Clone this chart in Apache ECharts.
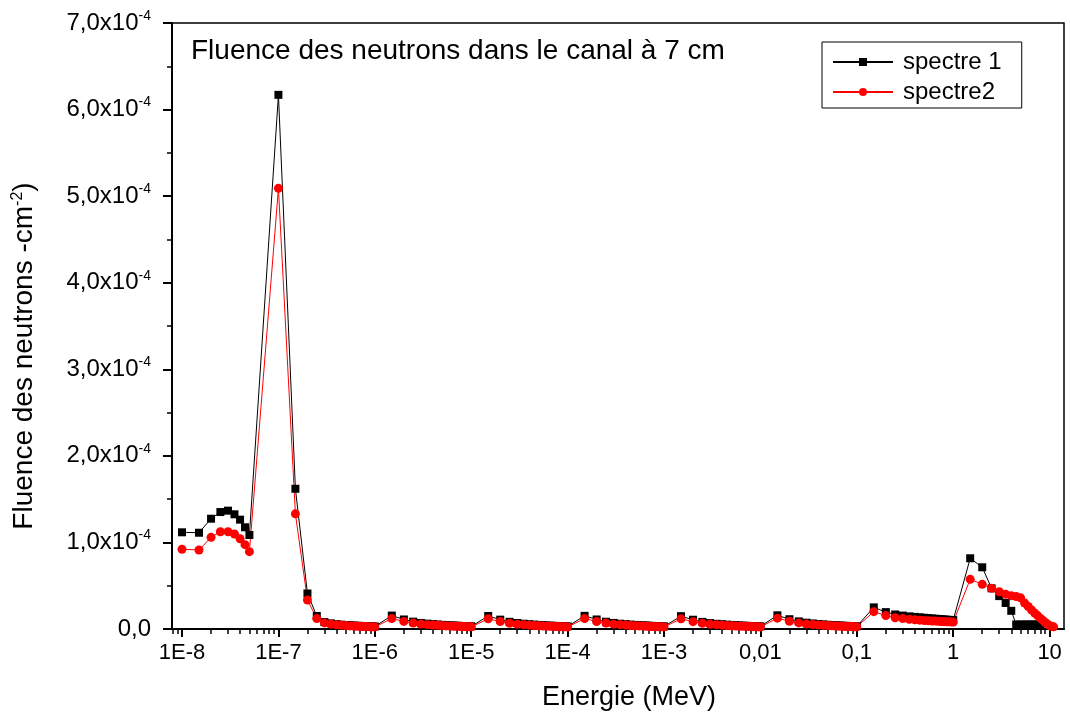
<!DOCTYPE html>
<html>
<head>
<meta charset="utf-8">
<script src="https://cdn.jsdelivr.net/npm/echarts@6/dist/echarts.min.js"></script>
<style>
    html, body { margin: 0; padding: 0; background: #fff; }
    #chart { width: 1070px; height: 720px; }
</style>
</head>
<body>
<div id="chart"></div>
<script>

// energy grid in MeV (spectre 1 stops at 8 MeV)
const energy = [
    1e-8, 1.5e-8, 2e-8, 2.5e-8, 3e-8, 3.5e-8, 4e-8, 4.5e-8, 5e-8,
    1e-7, 1.5e-7, 2e-7, 2.5e-7, 3e-7, 3.5e-7, 4e-7, 4.5e-7, 5e-7, 5.5e-7, 6e-7, 6.5e-7, 7e-7, 7.5e-7, 8e-7, 8.5e-7, 9e-7, 9.5e-7, 1e-6,
    1.5e-6, 2e-6, 2.5e-6, 3e-6, 3.5e-6, 4e-6, 4.5e-6, 5e-6, 5.5e-6, 6e-6, 6.5e-6, 7e-6, 7.5e-6, 8e-6, 8.5e-6, 9e-6, 9.5e-6, 1e-5,
    1.5e-5, 2e-5, 2.5e-5, 3e-5, 3.5e-5, 4e-5, 4.5e-5, 5e-5, 5.5e-5, 6e-5, 6.5e-5, 7e-5, 7.5e-5, 8e-5, 8.5e-5, 9e-5, 9.5e-5, 1e-4,
    1.5e-4, 2e-4, 2.5e-4, 3e-4, 3.5e-4, 4e-4, 4.5e-4, 5e-4, 5.5e-4, 6e-4, 6.5e-4, 7e-4, 7.5e-4, 8e-4, 8.5e-4, 9e-4, 9.5e-4, 1e-3,
    1.5e-3, 2e-3, 2.5e-3, 3e-3, 3.5e-3, 4e-3, 4.5e-3, 5e-3, 5.5e-3, 6e-3, 6.5e-3, 7e-3, 7.5e-3, 8e-3, 8.5e-3, 9e-3, 9.5e-3, 1e-2,
    1.5e-2, 2e-2, 2.5e-2, 3e-2, 3.5e-2, 4e-2, 4.5e-2, 5e-2, 5.5e-2, 6e-2, 6.5e-2, 7e-2, 7.5e-2, 8e-2, 8.5e-2, 9e-2, 9.5e-2, 0.1,
    0.15, 0.2, 0.25, 0.3, 0.35, 0.4, 0.45, 0.5, 0.55, 0.6, 0.65, 0.7, 0.75, 0.8, 0.85, 0.9, 0.95, 1,
    1.5, 2, 2.5, 3, 3.5, 4, 4.5, 5, 5.5, 6, 6.5, 7, 7.5, 8, 8.5, 9, 9.5, 10, 10.5, 11
];

// fluence, in units of 1e-4 cm-2
const spectre1 = [
    1.117, 1.112, 1.274, 1.351, 1.367, 1.325, 1.263, 1.175, 1.086,
    6.17, 1.62, 0.41, 0.15, 0.08, 0.065, 0.056, 0.05, 0.046, 0.043, 0.04, 0.038, 0.036, 0.034, 0.033, 0.032, 0.031, 0.03, 0.029,
    0.155, 0.11, 0.085, 0.07, 0.062, 0.056, 0.052, 0.048, 0.045, 0.042, 0.04, 0.038, 0.037, 0.035, 0.034, 0.033, 0.032, 0.031,
    0.15, 0.108, 0.083, 0.069, 0.061, 0.055, 0.051, 0.047, 0.044, 0.041, 0.039, 0.037, 0.036, 0.034, 0.033, 0.032, 0.031, 0.03,
    0.152, 0.11, 0.084, 0.07, 0.061, 0.056, 0.051, 0.047, 0.044, 0.042, 0.04, 0.038, 0.036, 0.035, 0.033, 0.032, 0.031, 0.03,
    0.148, 0.107, 0.082, 0.068, 0.06, 0.055, 0.05, 0.047, 0.044, 0.041, 0.039, 0.037, 0.036, 0.034, 0.033, 0.032, 0.031, 0.03,
    0.158, 0.113, 0.088, 0.073, 0.064, 0.058, 0.053, 0.049, 0.046, 0.043, 0.041, 0.039, 0.037, 0.036, 0.034, 0.033, 0.032, 0.031,
    0.25, 0.195, 0.168, 0.155, 0.146, 0.14, 0.135, 0.13, 0.126, 0.122, 0.119, 0.116, 0.113, 0.11, 0.108, 0.106, 0.104, 0.102,
    0.817, 0.713, 0.47, 0.38, 0.3, 0.21, 0.052, 0.052, 0.052, 0.052, 0.052, 0.052, 0.052, 0.052
];

const spectre2 = [
    0.921, 0.913, 1.059, 1.124, 1.124, 1.097, 1.043, 0.974, 0.893,
    5.09, 1.33, 0.335, 0.12, 0.07, 0.056, 0.048, 0.043, 0.039, 0.036, 0.034, 0.032, 0.03, 0.029, 0.028, 0.027, 0.026, 0.025, 0.024,
    0.12, 0.088, 0.068, 0.057, 0.05, 0.045, 0.042, 0.039, 0.036, 0.034, 0.032, 0.031, 0.03, 0.029, 0.028, 0.027, 0.026, 0.025,
    0.118, 0.086, 0.067, 0.056, 0.049, 0.044, 0.041, 0.038, 0.035, 0.033, 0.031, 0.03, 0.029, 0.028, 0.027, 0.026, 0.025, 0.024,
    0.12, 0.087, 0.068, 0.056, 0.05, 0.045, 0.041, 0.038, 0.036, 0.034, 0.032, 0.03, 0.029, 0.028, 0.027, 0.026, 0.025, 0.024,
    0.117, 0.085, 0.066, 0.055, 0.049, 0.044, 0.041, 0.038, 0.035, 0.033, 0.031, 0.03, 0.029, 0.028, 0.027, 0.026, 0.025, 0.024,
    0.125, 0.09, 0.07, 0.058, 0.051, 0.046, 0.043, 0.04, 0.037, 0.035, 0.033, 0.031, 0.03, 0.029, 0.028, 0.027, 0.026, 0.025,
    0.2, 0.155, 0.13, 0.12, 0.112, 0.106, 0.102, 0.098, 0.095, 0.093, 0.091, 0.089, 0.087, 0.086, 0.084, 0.083, 0.082, 0.08,
    0.574, 0.516, 0.47, 0.43, 0.4, 0.385, 0.375, 0.36, 0.3, 0.26, 0.22, 0.185, 0.155, 0.125, 0.1, 0.075, 0.055, 0.04, 0.03, 0.025
];

const majorTicks = [1e-8, 1e-7, 1e-6, 1e-5, 1e-4, 1e-3, 1e-2, 0.1, 1, 10];
const tickLabels = ['1E-8', '1E-7', '1E-6', '1E-5', '1E-4', '1E-3', '0,01', '0,1', '1', '10'];

const X_MIN = 7.87e-9;
const X_MAX = 14.1;
const FONT = 'Liberation Sans, Arial, sans-serif';

// minor ticks of the log axis: 2..9 in every decade
function minorTickValues() {
    const out = [];
    for (let e = -9; e <= 1; e++) {
        for (let m = 2; m <= 9; m++) {
            const v = m * Math.pow(10, e);
            if (v > X_MIN && v < X_MAX) out.push(v);
        }
    }
    return out;
}

function pairs(ys) {
    return ys.map((y, i) => [energy[i], y]);
}

var myChart = echarts.init(document.getElementById('chart'));

var option = {
    animation: false,
    backgroundColor: '#fff',
    textStyle: { fontFamily: FONT, color: '#000' },
    title: {
        text: 'Fluence des neutrons dans le canal à 7 cm',
        left: 186,
        top: 32,
        textStyle: { fontFamily: FONT, fontSize: 28, fontWeight: 'normal', color: '#000' }
    },
    legend: {
        orient: 'vertical',
        left: 822,
        top: 42,
        padding: [6, 20, 2, 10],
        itemGap: 2,
        itemWidth: 60,
        itemHeight: 10,
        borderColor: '#000',
        borderWidth: 1,
        borderRadius: 0,
        textStyle: { fontFamily: FONT, fontSize: 24, lineHeight: 28, color: '#000', padding: [0, 0, 0, 5] },
        data: ['spectre 1', 'spectre2']
    },
    grid: {
        left: 172,
        right: 6,
        top: 23,
        bottom: 91,
        show: true,
        borderColor: '#000',
        borderWidth: 1.5
    },
    xAxis: [
        {
            type: 'log',
            min: X_MIN,
            max: X_MAX,
            position: 'bottom',
            name: 'Energie (MeV)',
            nameLocation: 'middle',
            nameGap: 55,
            nameTextStyle: { fontFamily: FONT, fontSize: 27, color: '#000', padding: [0, 0, 0, 22] },
            axisLine: { lineStyle: { color: '#000', width: 2 } },
            axisTick: { show: true, customValues: majorTicks, length: 8, lineStyle: { color: '#000', width: 2 } },
            axisLabel: {
                customValues: majorTicks,
                margin: 13,
                fontFamily: FONT,
                fontSize: 22,
                color: '#000',
                formatter: function (v) {
                    return tickLabels[Math.round(Math.log10(v)) + 8];
                }
            },
            splitLine: { show: false }
        },
        {
            type: 'log',
            min: X_MIN,
            max: X_MAX,
            position: 'bottom',
            axisLine: { show: false },
            axisTick: { show: true, customValues: minorTickValues(), length: 5, lineStyle: { color: '#000', width: 1.5 } },
            axisLabel: { show: false },
            splitLine: { show: false }
        }
    ],
    yAxis: {
        type: 'value',
        min: 0,
        max: 7,
        interval: 1,
        name: 'Fluence des neutrons -cm{s|-2})',
        nameLocation: 'middle',
        nameGap: 134,
        nameTextStyle: {
            fontFamily: FONT,
            fontSize: 28,
            color: '#000',
            padding: [0, 60, 0, 0],
            rich: { s: { fontFamily: FONT, fontSize: 16, verticalAlign: 'top', color: '#000' } }
        },
        axisLine: { show: true, lineStyle: { color: '#000', width: 2 } },
        axisTick: { show: true, length: 9, lineStyle: { color: '#000', width: 2 } },
        minorTick: { show: true, splitNumber: 2, length: 5, lineStyle: { color: '#000', width: 1.5 } },
        splitLine: { show: false },
        axisLabel: {
            margin: 21,
            color: '#000',
            formatter: function (v) {
                if (v === 0) return '{b|0,0}';
                return '{b|' + v + ',0x10}{s|-4}';
            },
            rich: {
                b: { fontFamily: FONT, fontSize: 24, lineHeight: 28, color: '#000' },
                s: { fontFamily: FONT, fontSize: 14, verticalAlign: 'top', color: '#000' }
            }
        }
    },
    series: [
        {
            name: 'spectre 1',
            type: 'line',
            xAxisIndex: 0,
            data: pairs(spectre1),
            symbol: 'rect',
            symbolSize: 8,
            showAllSymbol: true,
            itemStyle: { color: '#000' },
            lineStyle: { color: '#000', width: 1 }
        },
        {
            name: 'spectre2',
            type: 'line',
            xAxisIndex: 0,
            data: pairs(spectre2),
            symbol: 'circle',
            symbolSize: 9,
            showAllSymbol: true,
            itemStyle: { color: '#ff0000' },
            lineStyle: { color: '#ff0000', width: 1 }
        }
    ]
};

myChart.setOption(option);

</script>
</body>
</html>
